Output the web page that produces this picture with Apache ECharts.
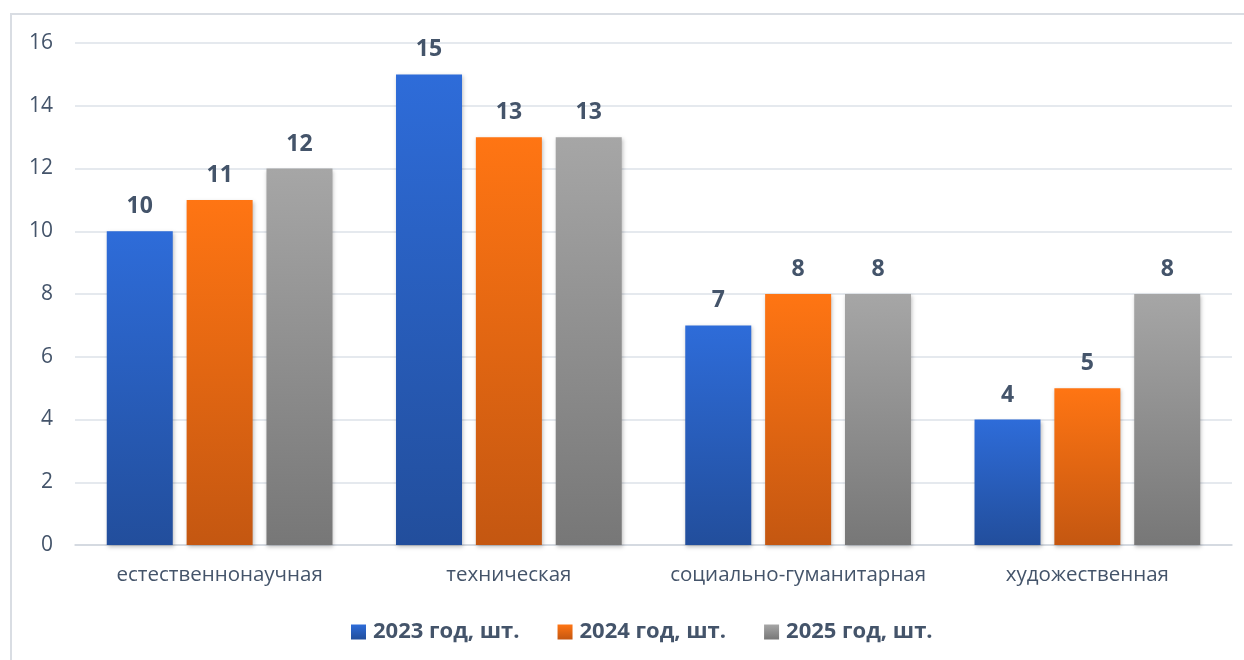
<!DOCTYPE html>
<html><head><meta charset="utf-8">
<script src="https://cdn.jsdelivr.net/npm/echarts@6/dist/echarts.min.js"></script>
<style>html,body{margin:0;padding:0;background:#fff}#c{width:1244px;height:660px}</style>
</head><body><div id="c"></div>
<script>
const categories = ['естественнонаучная', 'техническая', 'социально-гуманитарная', 'художественная'];
const seriesNames = ['2023 год, шт.', '2024 год, шт.', '2025 год, шт.'];
const values2023 = [10, 15, 7, 4];
const values2024 = [11, 13, 8, 5];
const values2025 = [12, 13, 8, 8];
const yTicks = [0, 2, 4, 6, 8, 10, 12, 14, 16];

const FONT = '"Open Sans", "Noto Sans", sans-serif';
const TXT = '#44546A';
function grad(top, bottom) {
  return new echarts.graphic.LinearGradient(0, 0, 0, 1, [{offset: 0, color: top}, {offset: 1, color: bottom}]);
}
const colors = [grad('#2E6CD9', '#224E9C'), grad('#FF7513', '#C45711'), grad('#A6A6A6', '#777777')];
const data = [values2023, values2024, values2025];

const chart = echarts.init(document.getElementById('c'), null, {renderer: 'canvas'});
chart.setOption({
  backgroundColor: '#fff',
  animation: false,
  graphic: [{type: 'rect', shape: {x: 11, y: 14, width: 1300, height: 700}, style: {fill: 'none', stroke: '#D9DDE3', lineWidth: 2}, z: -1}],
  grid: {left: 75, right: 12, top: 43, bottom: 115, containLabel: false},
  legend: {
    top: 616, left: 346, itemWidth: 15, itemHeight: 15, itemGap: 38,
    icon: 'rect',
    textStyle: {fontFamily: FONT, fontWeight: 'bold', fontSize: 22, color: TXT, padding: [0, 0, 0, 2]},
    data: seriesNames.map((n, i) => ({name: n, itemStyle: {color: colors[i]}}))
  },
  xAxis: {
    type: 'category', data: categories,
    axisLine: {lineStyle: {color: '#D0D5DD', width: 1.5}},
    axisTick: {show: false},
    axisLabel: {interval: 0, fontFamily: FONT, fontSize: 20.5, color: TXT, margin: 20}
  },
  yAxis: {
    type: 'value', min: yTicks[0], max: yTicks[yTicks.length - 1], interval: 2,
    axisLine: {show: false}, axisTick: {show: false},
    axisLabel: {fontFamily: FONT, fontSize: 21, color: TXT, margin: 22},
    splitLine: {lineStyle: {color: '#DDE2E8', width: 1.5}}
  },
  series: seriesNames.map((n, i) => ({
    name: n, type: 'bar', data: data[i], barWidth: 66, barGap: '21%',
    itemStyle: {color: colors[i], shadowColor: 'rgba(0,0,0,0.25)', shadowBlur: 4, shadowOffsetX: 1, shadowOffsetY: 2},
    label: {show: true, position: 'top', distance: 13, fontFamily: FONT, fontWeight: 'bold', fontSize: 23, color: TXT}
  }))
});
</script></body></html>
